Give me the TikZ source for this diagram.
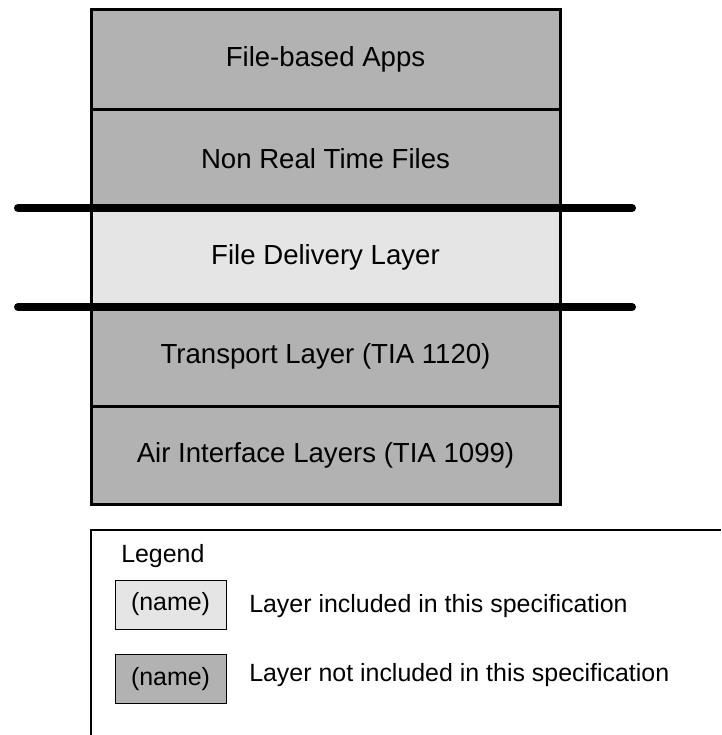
\documentclass[tikz,border=0pt]{standalone}
\usepackage{fontspec}
\setmainfont{Liberation Sans}
\usetikzlibrary{positioning}
\definecolor{notspec}{gray}{0.70}
\definecolor{inspec}{gray}{0.90}
\tikzset{
  layer/.style={draw=black, line width=2.25pt, fill=notspec, minimum width=351.75pt,
    minimum height=74.25pt, inner sep=0pt, outer sep=0pt, font=\fontsize{20.7}{24}\selectfont},
  swatch/.style={draw=black, line width=0.75pt, minimum width=83.25pt, minimum height=36.75pt,
    inner sep=0pt, outer sep=0pt, font=\fontsize{18.7}{22}\selectfont},
  legtext/.style={anchor=west, inner sep=0pt, font=\fontsize{18.7}{22}\selectfont},
  cutline/.style={line width=6pt, line cap=round}
}
\begin{document}
\begin{tikzpicture}[x=0.75pt,y=-0.75pt]
  \useasboundingbox (0,0) rectangle (721,735);
  % layer stack
  \node[layer] (apps) at (325.5,59.5) {File-based Apps};
  \node[layer, below=0pt of apps] (nrt) {Non Real Time Files};
  \node[layer, below=0pt of nrt, fill=inspec] (fdl) {File Delivery Layer};
  \node[layer, below=0pt of fdl] (tl) {Transport Layer (TIA 1120)};
  \node[layer, below=0pt of tl, minimum height=73.5pt] (ail) {Air Interface Layers (TIA 1099)};
  % scope of this specification
  \draw[cutline] (18,208) -- (632,208);
  \draw[cutline] (18,307) -- (632,307);
  % legend
  \draw[line width=1.5pt] (721,530) -- (91,530) -- (91,735);
  \node[legtext] (leg) at (121,556) {Legend};
  \node[swatch, fill=inspec] (sw1) at (170.5,604.5) {(name)};
  \node[swatch, fill=notspec] (sw2) at (170.5,679) {(name)};
  \node[legtext] (lab1) at (249,606) {Layer included in this specification};
  \node[legtext] (lab2) at (249,675) {Layer not included in this specification};
\end{tikzpicture}
\end{document}
